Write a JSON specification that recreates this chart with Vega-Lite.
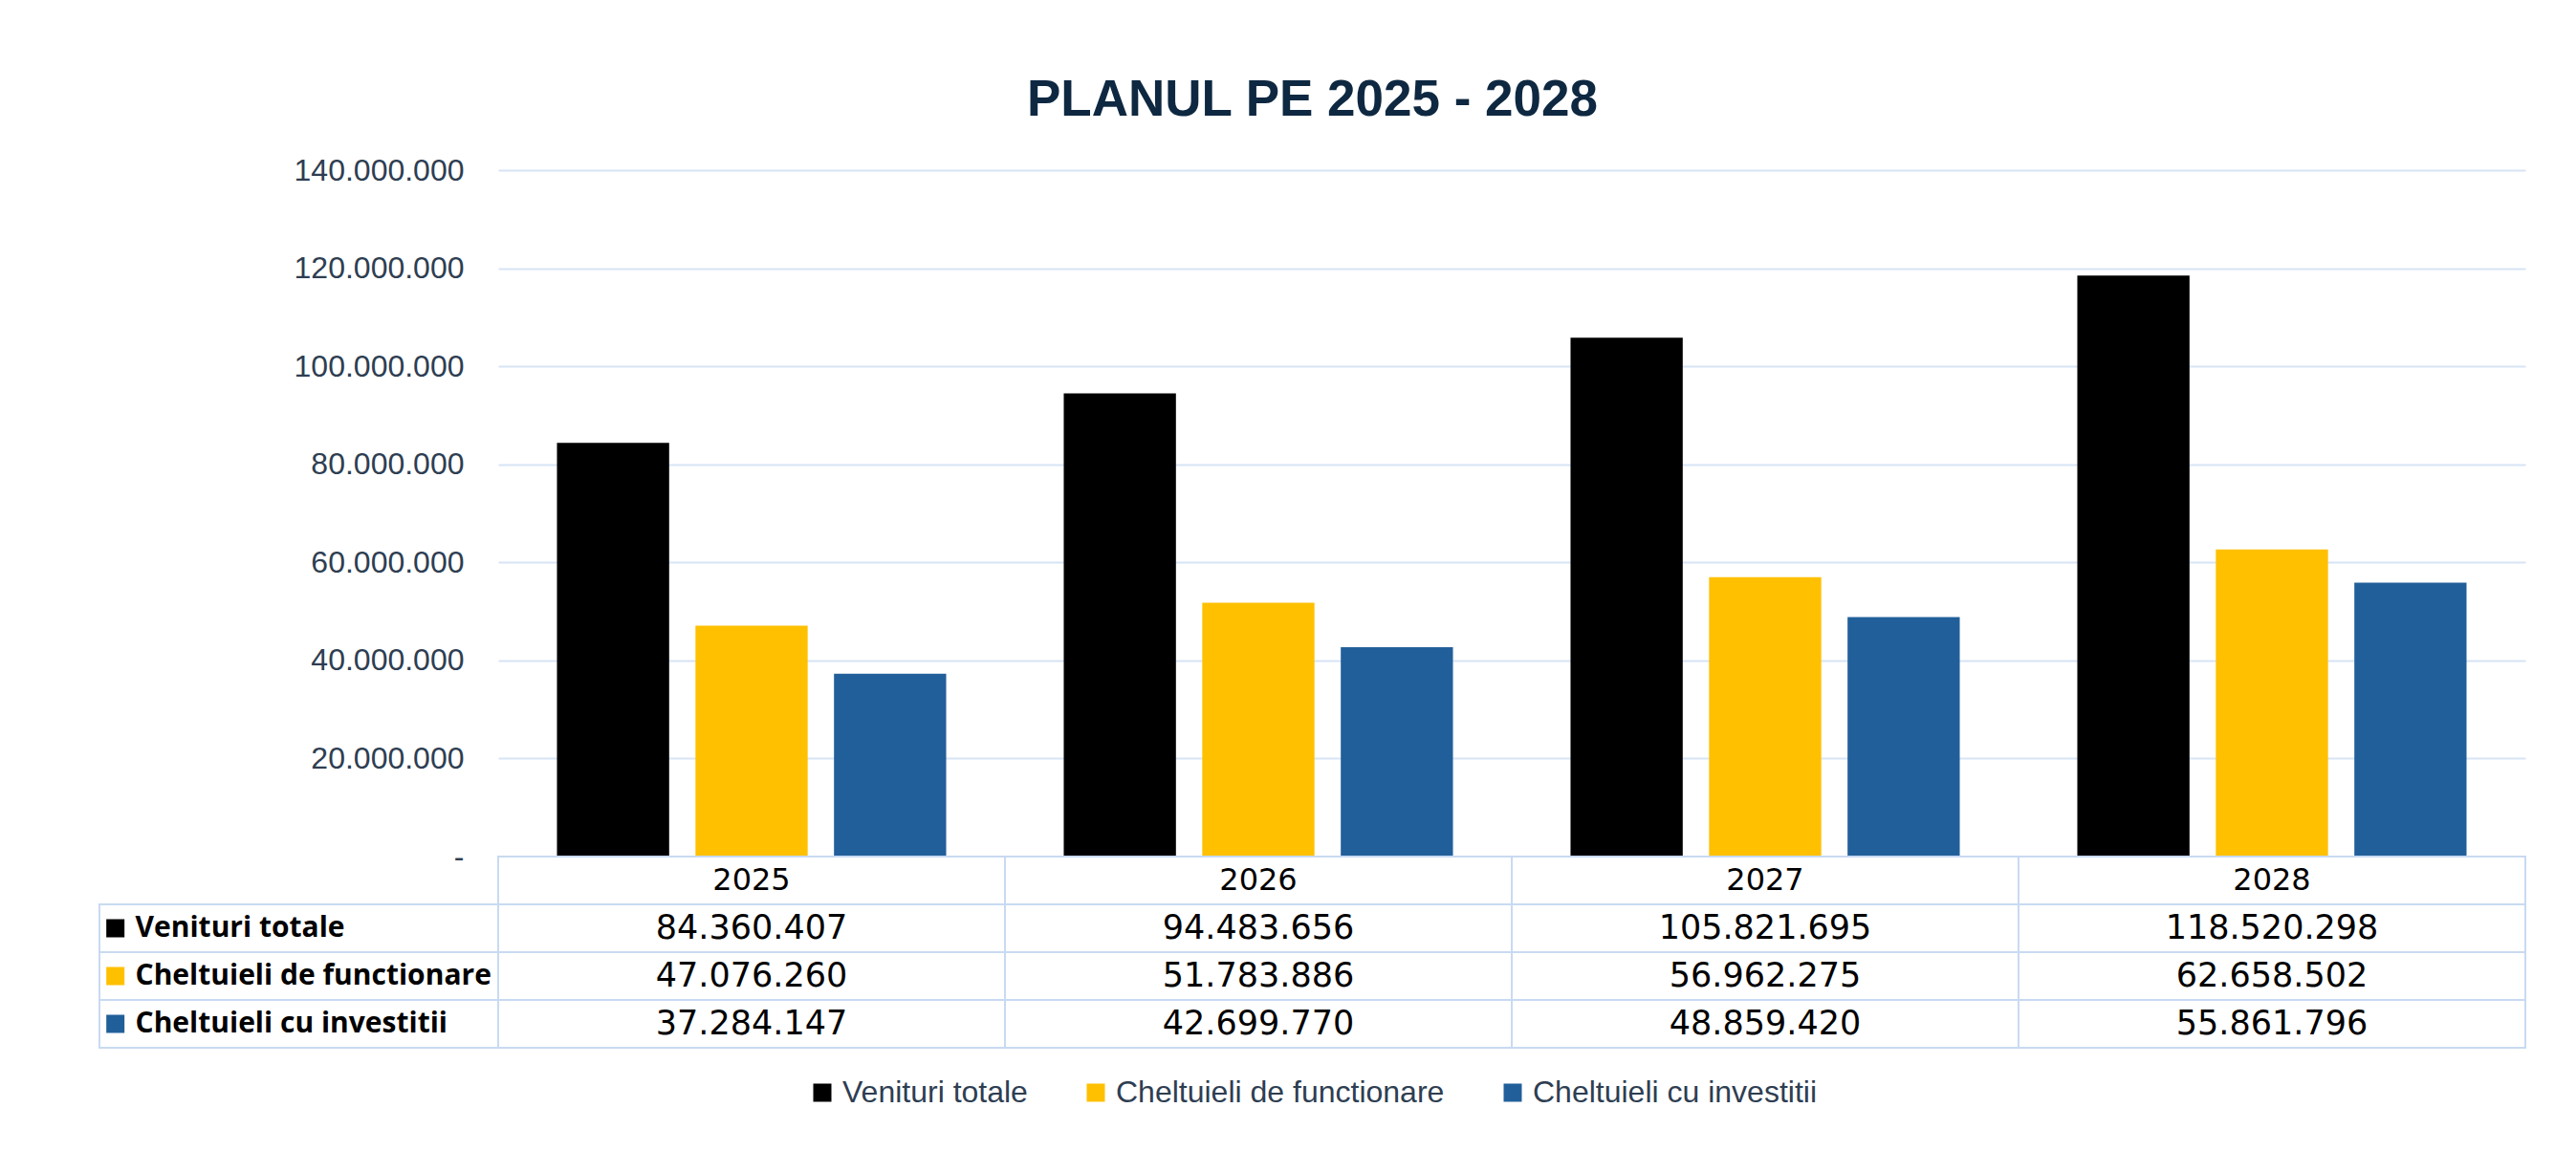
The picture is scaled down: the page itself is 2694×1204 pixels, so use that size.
{
  "$schema": "https://vega.github.io/schema/vega-lite/v6.json",
  "background": "white",
  "padding": {"left": 103, "top": 79, "right": 40, "bottom": 30},
  "title": {"text": "PLANUL PE 2025 - 2028", "anchor": "middle", "font": "Liberation Sans", "fontSize": 53, "fontWeight": "bold", "color": "#0E2841", "offset": 30},
  "datasets": {
    "valori": [
      {"an": "2025", "serie": "Venituri totale", "valoare": 84360407},
      {"an": "2025", "serie": "Cheltuieli de functionare", "valoare": 47076260},
      {"an": "2025", "serie": "Cheltuieli cu investitii", "valoare": 37284147},
      {"an": "2026", "serie": "Venituri totale", "valoare": 94483656},
      {"an": "2026", "serie": "Cheltuieli de functionare", "valoare": 51783886},
      {"an": "2026", "serie": "Cheltuieli cu investitii", "valoare": 42699770},
      {"an": "2027", "serie": "Venituri totale", "valoare": 105821695},
      {"an": "2027", "serie": "Cheltuieli de functionare", "valoare": 56962275},
      {"an": "2027", "serie": "Cheltuieli cu investitii", "valoare": 48859420},
      {"an": "2028", "serie": "Venituri totale", "valoare": 118520298},
      {"an": "2028", "serie": "Cheltuieli de functionare", "valoare": 62658502},
      {"an": "2028", "serie": "Cheltuieli cu investitii", "valoare": 55861796}
    ],
    "ani": [{"an": "2025"}, {"an": "2026"}, {"an": "2027"}, {"an": "2028"}],
    "serii": [{"serie": "Venituri totale"}, {"serie": "Cheltuieli de functionare"}, {"serie": "Cheltuieli cu investitii"}]
  },
  "columns": 2,
  "spacing": 0,
  "bounds": "flush",
  "concat": [
    {
      "width": 417,
      "height": 718,
      "data": {"name": "serii"},
      "mark": {"type": "text", "text": ""},
      "encoding": {}
    },
    {
      "width": 2120,
      "height": 718,
      "data": {"name": "valori"},
      "mark": {"type": "bar"},
      "encoding": {
        "x": {"field": "an", "type": "nominal", "axis": null, "scale": {"paddingInner": 0.232, "paddingOuter": 0.116}},
        "xOffset": {"field": "serie", "type": "nominal", "sort": ["Venituri totale", "Cheltuieli de functionare", "Cheltuieli cu investitii"], "scale": {"paddingInner": 0.19}},
        "y": {
          "field": "valoare", "type": "quantitative",
          "scale": {"domain": [0, 140000000], "nice": false},
          "axis": {
            "values": [0, 20000000, 40000000, 60000000, 80000000, 100000000, 120000000, 140000000],
            "title": null, "format": ",d",
            "labelExpr": "datum.value === 0 ? '-' : datum.label",
            "domain": false, "ticks": false, "labelPadding": 36, "labelLimit": 400,
            "labelFont": "Liberation Sans", "labelFontSize": 32, "labelColor": "#2E3E52",
            "grid": true, "gridColor": "#D7E4F5", "gridWidth": 2
          }
        },
        "color": {
          "field": "serie", "type": "nominal", "title": null,
          "sort": ["Venituri totale", "Cheltuieli de functionare", "Cheltuieli cu investitii"],
          "scale": {"domain": ["Venituri totale", "Cheltuieli de functionare", "Cheltuieli cu investitii"], "range": ["#000000", "#FFC000", "#215F9A"]}
        }
      }
    },
    {
      "width": 417,
      "height": 200,
      "data": {"name": "serii"},
      "encoding": {
        "y": {"field": "serie", "type": "nominal", "axis": null, "scale": {"domain": ["An", "Venituri totale", "Cheltuieli de functionare", "Cheltuieli cu investitii"], "paddingInner": 0, "paddingOuter": 0}}
      },
      "layer": [
        {
          "mark": {"type": "rect", "fill": "white", "stroke": "#C8DAF1", "strokeWidth": 2},
          "encoding": {
            "x": {"datum": 0, "type": "quantitative", "scale": {"domain": [0, 1]}, "axis": null},
            "x2": {"datum": 1}
          }
        },
        {
          "mark": {"type": "point", "shape": "square", "filled": true, "size": 361, "opacity": 1},
          "encoding": {
            "x": {"datum": 0.04, "type": "quantitative", "scale": {"domain": [0, 1]}, "axis": null},
            "color": {"field": "serie", "type": "nominal", "title": null, "sort": ["Venituri totale", "Cheltuieli de functionare", "Cheltuieli cu investitii"]}
          }
        },
        {
          "mark": {"type": "text", "align": "left", "baseline": "middle", "font": "Open Sans", "fontSize": 30, "fontWeight": "bold", "color": "#000000"},
          "encoding": {
            "x": {"datum": 0.09, "type": "quantitative", "scale": {"domain": [0, 1]}, "axis": null},
            "text": {"field": "serie"}
          }
        }
      ]
    },
    {
      "width": 2120,
      "height": 200,
      "encoding": {
        "x": {"field": "an", "type": "nominal", "axis": null, "scale": {"paddingInner": 0, "paddingOuter": 0}},
        "y": {"field": "serie", "type": "nominal", "axis": null, "scale": {"domain": ["An", "Venituri totale", "Cheltuieli de functionare", "Cheltuieli cu investitii"], "paddingInner": 0, "paddingOuter": 0}}
      },
      "layer": [
        {
          "data": {"name": "valori"},
          "mark": {"type": "rect", "fill": "white", "stroke": "#C8DAF1", "strokeWidth": 2}
        },
        {
          "data": {"name": "valori"},
          "mark": {"type": "text", "font": "DejaVu Sans", "fontSize": 35, "color": "#000000", "baseline": "middle"},
          "encoding": {"text": {"field": "valoare", "type": "quantitative", "format": ",d"}}
        },
        {
          "data": {"name": "ani"},
          "mark": {"type": "rect", "fill": "white", "stroke": "#C8DAF1", "strokeWidth": 2},
          "encoding": {"y": {"datum": "An", "type": "nominal"}}
        },
        {
          "data": {"name": "ani"},
          "mark": {"type": "text", "font": "DejaVu Sans", "fontSize": 32, "color": "#000000", "baseline": "middle"},
          "encoding": {"y": {"datum": "An", "type": "nominal"}, "text": {"field": "an"}}
        }
      ]
    }
  ],
  "config": {
    "view": {"stroke": null},
    "locale": {"number": {"decimal": ",", "thousands": ".", "grouping": [3], "currency": ["", ""]}},
    "legend": {
      "orient": "bottom", "direction": "horizontal",
      "layout": {"bottom": {"anchor": "middle"}},
      "labelFont": "Liberation Sans", "labelFontSize": 32, "labelColor": "#2E3E52",
      "symbolType": "square", "symbolSize": 361, "symbolStrokeWidth": 0,
      "labelOffset": 5, "columnPadding": 55, "offset": 30, "labelLimit": 600
    }
  }
}
